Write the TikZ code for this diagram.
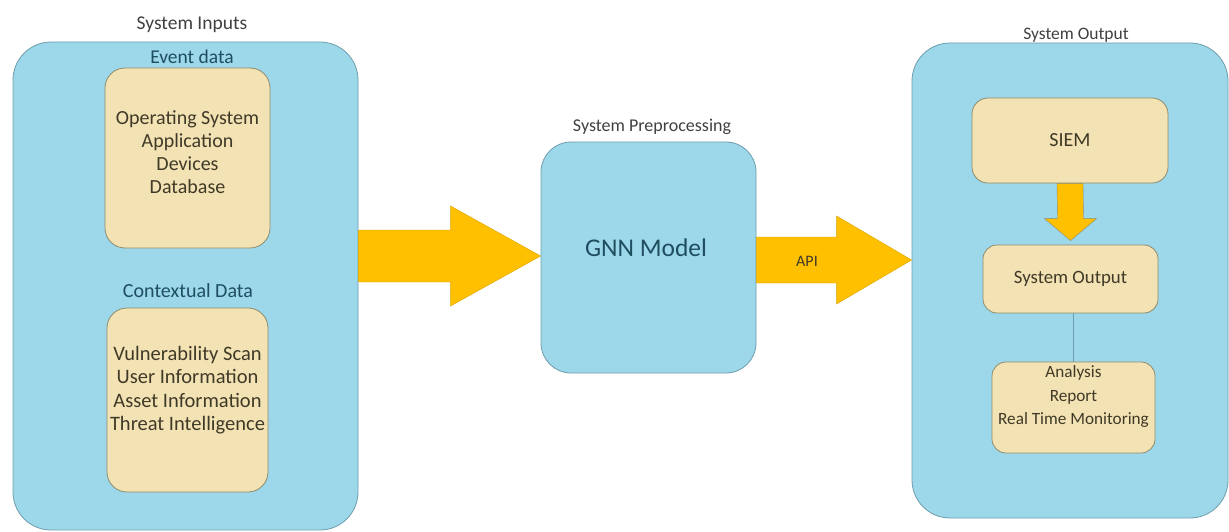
\documentclass[tikz,border=0pt]{standalone}
\usepackage{fontspec}
\setmainfont{Carlito}
\usetikzlibrary{calc}
\definecolor{bigblue}{HTML}{9DD7EA}
\definecolor{bigedge}{HTML}{6E9EAC}
\definecolor{cream}{HTML}{F3E2B3}
\definecolor{creamedge}{HTML}{8F8C6E}
\definecolor{gold}{HTML}{FFC000}
\definecolor{goldedge}{HTML}{D9A300}
\definecolor{titletext}{HTML}{404040}
\definecolor{boxtext}{HTML}{3F3A28}
\definecolor{tealtext}{HTML}{1F4E5F}
\tikzset{
  bigbox/.style={draw=bigedge, fill=bigblue, line width=0.8pt, rounded corners=38pt, inner sep=0pt},
  creambox/.style={draw=creamedge, fill=cream, line width=0.8pt, rounded corners=20pt, inner sep=0pt},
  title/.style={text=titletext, font=\fontsize{18}{20}\selectfont},
  subtitle/.style={text=tealtext, font=\fontsize{20}{22}\selectfont},
  itemtext/.style={text=boxtext, align=center, font=\fontsize{20}{23}\selectfont},
  fat/.style={fill=gold, draw=goldedge, line width=0.4pt},
}
\begin{document}
\begin{tikzpicture}[x=1pt,y=-1pt]
\useasboundingbox (0,0) rectangle (1229,532);
% left
\node[bigbox, minimum width=345pt, minimum height=488pt] (in) at (185.5,286) {};
\node[title, font=\fontsize{19.5}{21}\selectfont] (intitle) at (192,25) {System Inputs};
\node[subtitle, font=\fontsize{19.5}{21}\selectfont] (evtitle) at (192,57) {Event data};
\node[creambox, minimum width=165pt, minimum height=180pt] (ev) at (187.5,158) {};
\node[itemtext] (evtext) at (187.5,152) {Operating System\\Application\\Devices\\Database};
\node[subtitle] (cxtitle) at (188,291) {Contextual Data};
\node[creambox, minimum width=161pt, minimum height=184pt] (cx) at (187.5,400) {};
\node[itemtext, font=\fontsize{20.5}{23.3}\selectfont] (cxtext) at (187.5,390) {Vulnerability Scan\\User Information\\Asset Information\\Threat Intelligence};
% middle
\node[title] (gnntitle) at (652,127) {System Preprocessing};
\node[bigbox, rounded corners=30pt, minimum width=215pt, minimum height=231pt] (gnn) at (648.5,257.5) {};
\node[text=tealtext, font=\fontsize{25.5}{28}\selectfont] (gnnlabel) at (646,248) {GNN Model};
% right
\node[title, font=\fontsize{17.5}{20}\selectfont] (outtitle) at (1076,35) {System Output};
\node[bigbox, minimum width=316pt, minimum height=475pt] (out) at (1070,280.5) {};
\node[creambox, rounded corners=16pt, minimum width=196pt, minimum height=85pt, text=boxtext, font=\fontsize{20}{22}\selectfont] (siem) at (1070,140.5) {SIEM};
\node[creambox, rounded corners=14pt, minimum width=175pt, minimum height=68pt, text=boxtext, font=\fontsize{18.8}{21}\selectfont] (so) at (1070.5,279) {System Output};
\node[creambox, rounded corners=14pt, minimum width=163pt, minimum height=91pt] (an) at (1073.5,407.5) {};
\node[itemtext, font=\fontsize{17.2}{23.5}\selectfont] (antext) at (1073.5,397) {Analysis\\Report\\Real Time Monitoring};
\draw[bigedge, line width=0.8pt] (so.south -| 1073,0) -- (an.north -| 1073,0);
% arrows
\coordinate (a1t) at (in.east |- 0,256);
\coordinate (a1h) at (gnn.west |- 0,256);
\fill[fat] ($(a1t)+(0,-26)$) -- ($(a1h)+(-90,-26)$) -- ($(a1h)+(-90,-50)$) -- (a1h) -- ($(a1h)+(-90,50)$) -- ($(a1h)+(-90,26)$) -- ($(a1t)+(0,26)$) -- cycle;
\coordinate (a2t) at (gnn.east |- 0,260);
\coordinate (a2h) at (out.west |- 0,260);
\fill[fat] ($(a2t)+(0,-23)$) -- ($(a2h)+(-75,-23)$) -- ($(a2h)+(-75,-44)$) -- (a2h) -- ($(a2h)+(-75,44)$) -- ($(a2h)+(-75,23)$) -- ($(a2t)+(0,23)$) -- cycle;
\node[text=boxtext, font=\fontsize{16}{18}\selectfont] (api) at (807,261) {API};
\coordinate (a3t) at (siem.south);
\coordinate (a3h) at ($(so.north)+(0,-4)$);
\fill[fat, draw=creamedge] ($(a3t)+(-13,0)$) -- ($(a3h)+(-13,-22)$) -- ($(a3h)+(-26,-22)$) -- (a3h) -- ($(a3h)+(26,-22)$) -- ($(a3h)+(13,-22)$) -- ($(a3t)+(13,0)$) -- cycle;
\end{tikzpicture}
\end{document}
